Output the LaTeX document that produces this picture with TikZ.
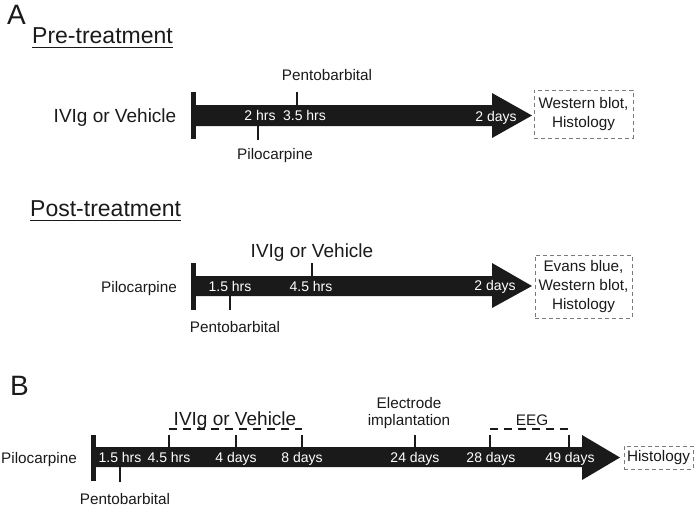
\documentclass[tikz,border=0pt]{standalone}
\usepackage{fontspec}
\setmainfont{Liberation Sans}
\definecolor{ink}{HTML}{1A1A1A}
\definecolor{boxgray}{HTML}{7A7A7A}
\begin{document}
\begin{tikzpicture}[x=1pt,y=-1pt,
  lab/.style={font=\fontsize{15.3}{17}\selectfont, inner sep=0pt, text=ink, anchor=base},
  inlab/.style={font=\fontsize{14}{16}\selectfont, inner sep=0pt, text=white, anchor=base},
  biglab/.style={font=\fontsize{19}{22}\selectfont, inner sep=0pt, text=ink, anchor=base},
  headlab/.style={font=\fontsize{23}{26}\selectfont, inner sep=0pt, text=ink, anchor=base west},
  letterlab/.style={font=\fontsize{28}{32}\selectfont, inner sep=0pt, text=ink, anchor=base west},
  dbox/.style={draw=boxgray, dash pattern=on 4pt off 3pt, line width=1pt, inner sep=0pt,
    align=center, font=\fontsize{15.3}{19}\selectfont, text=ink},
  tickmark/.style={draw=ink, line width=2pt},
  startbar/.style={draw=ink, line width=5pt},
  body/.style={fill=ink},
  uline/.style={draw=ink, line width=1.4pt},
  span/.style={draw=ink, line width=1.3pt, dash pattern=on 8pt off 6pt}
]
\useasboundingbox (0,0) rectangle (697,507);

% ---------------- Panel A: Pre-treatment ----------------
\node[letterlab] (A) at (7,24) {A};
\node[headlab] (pre) at (32,43) {Pre-treatment};
\draw[uline] ([yshift=-4.5pt]pre.base west) -- ([yshift=-4.5pt]pre.base east);

\fill[body] (192,105) -- (492,105) -- (492,93) -- (532,115.5) -- (492,138) -- (492,126) -- (192,126) -- cycle;
\draw[startbar] (193.5,92) -- (193.5,139);
\coordinate (pA1) at (258,126); \coordinate (pA1e) at (258,140);
\coordinate (pA2) at (297,105); \coordinate (pA2e) at (297,92);
\draw[tickmark] (pA1) -- (pA1e);
\draw[tickmark] (pA2) -- (pA2e);

\node[biglab] (ivA) at (115,122) {IVIg or Vehicle};
\node[lab] (pentoA) at (327,80) {Pentobarbital};
\node[lab] (piloA) at (275,159) {Pilocarpine};
\node[inlab] (t2h) at (260,120) {2 hrs};
\node[inlab] (t35h) at (304.5,120) {3.5 hrs};
\node[inlab] (t2dA) at (496,121) {2 days};
\node[dbox, minimum width=99pt, minimum height=48pt] (boxA) at (583.5,114) {Western blot,\\Histology};

% ---------------- Panel A: Post-treatment ----------------
\node[headlab] (post) at (30,216.5) {Post-treatment};
\draw[uline] ([yshift=-4pt]post.base west) -- ([yshift=-4pt]post.base east);

\fill[body] (192,276) -- (492,276) -- (492,263) -- (532,286) -- (492,308) -- (492,296) -- (192,296) -- cycle;
\draw[startbar] (193.5,263) -- (193.5,310);
\coordinate (pP1) at (230,296); \coordinate (pP1e) at (230,310);
\coordinate (pP2) at (312,276); \coordinate (pP2e) at (312,263);
\draw[tickmark] (pP1) -- (pP1e);
\draw[tickmark] (pP2) -- (pP2e);

\node[lab] (piloP) at (139,292.5) {Pilocarpine};
\node[biglab] (ivP) at (312,257) {IVIg or Vehicle};
\node[lab] (pentoP) at (235,332) {Pentobarbital};
\node[inlab] (t15P) at (230,291) {1.5 hrs};
\node[inlab] (t45P) at (311,291) {4.5 hrs};
\node[inlab] (t2dP) at (495,290) {2 days};
\node[dbox, minimum width=97pt, minimum height=63pt] (boxP) at (583.5,286.5) {Evans blue,\\Western blot,\\Histology};

% ---------------- Panel B ----------------
\node[letterlab] (B) at (10,395) {B};

\fill[body] (92,447) -- (582,447) -- (582,435) -- (620,457.5) -- (582,480) -- (582,467) -- (92,467) -- cycle;
\draw[startbar] (93.5,435) -- (93.5,481);
\coordinate (b0) at (120,467); \coordinate (b0e) at (120,482);
\coordinate (b1) at (169,447); \coordinate (b1e) at (169,435);
\coordinate (b2) at (236,447); \coordinate (b2e) at (236,435);
\coordinate (b3) at (302,447); \coordinate (b3e) at (302,435);
\coordinate (b4) at (415,447); \coordinate (b4e) at (415,435);
\coordinate (b5) at (490,447); \coordinate (b5e) at (490,435);
\coordinate (b6) at (569,447); \coordinate (b6e) at (569,435);
\foreach \s in {b0,b1,b2,b3,b4,b5,b6} \draw[tickmark] (\s) -- (\s e);

\coordinate (ivL) at (169,429); \coordinate (ivR) at (302,429);
\coordinate (eegL) at (490,429); \coordinate (eegR) at (570,429);
\draw[span] (ivL) -- (ivR);
\draw[span] (eegL) -- (eegR);

\node[lab] (piloB) at (39,463.5) {Pilocarpine};
\node[lab] (pentoB) at (125,504) {Pentobarbital};
\node[biglab] (ivB) at (235,425) {IVIg or Vehicle};
\node[lab, align=center, anchor=south] (elec) at (409,429) {Electrode\\implantation};
\node[lab] (eeg) at (532,425) {EEG};
\node[inlab] (t15B) at (120,462) {1.5 hrs};
\node[inlab] (t45B) at (169,462) {4.5 hrs};
\node[inlab] (t4d) at (236,462) {4 days};
\node[inlab] (t8d) at (302,462) {8 days};
\node[inlab] (t24d) at (415,462) {24 days};
\node[inlab] (t28d) at (491,462) {28 days};
\node[inlab] (t49d) at (570,462) {49 days};
\node[dbox, minimum width=69pt, minimum height=23pt] (boxB) at (658.5,457.5) {Histology};
\end{tikzpicture}
\end{document}
